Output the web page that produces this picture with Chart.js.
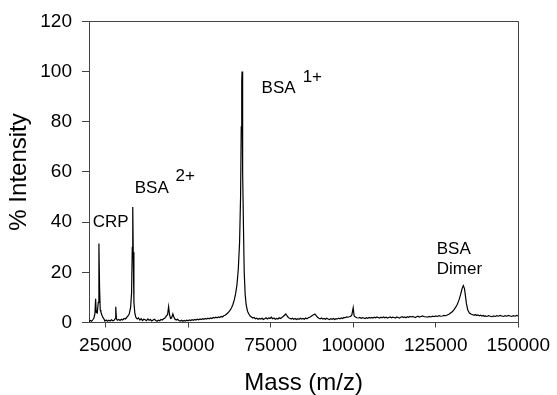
<!DOCTYPE html>
<html>
<head>
<meta charset="utf-8">
<title>Mass spectrum</title>
<script src="https://cdn.jsdelivr.net/npm/chart.js@4"></script>
<style>
  body { margin: 0; background: #fff; }
</style>
</head>
<body>
<canvas id="spectrum" width="557" height="395"></canvas>
<script>
// spectrum, in groups of ten points
const mass = [
    20000, 20400, 20800, 21200, 21500, 21800, 22000, 22200, 22500, 22800,
    23000, 23200, 23400, 23600, 23900, 24200, 24500, 24800, 25200, 25600,
    26000, 26400, 26800, 27200, 27600, 27900, 28100, 28300, 28600, 29000,
    29400, 29800, 30200, 30600, 31000, 31400, 31800, 32200, 32600, 32900,
    33100, 33250, 33400, 33600, 33900, 34200, 34600, 35000, 35400, 35800,
    36200, 36600, 37000, 37400, 37800, 38200, 38600, 39000, 39400, 39800,
    40200, 40600, 41000, 41400, 41800, 42200, 42600, 43000, 43400, 43800,
    44100, 44400, 44700, 45000, 45400, 45700, 46000, 46400, 46800, 47200,
    47600, 48000, 48400, 48800, 49200, 49600, 50000, 50400, 50800, 51200,
    51600, 52000, 52400, 52800, 53200, 53600, 54000, 54400, 54800, 55200,
    55600, 56000, 56400, 56800, 57200, 57600, 58000, 58400, 58800, 59200,
    59600, 60000, 60400, 60800, 61200, 61600, 62000, 62400, 62800, 63200,
    63600, 64000, 64400, 64800, 65200, 65600, 65900, 66100, 66250, 66350,
    66450, 66600, 66800, 67000, 67300, 67600, 68000, 68400, 68800, 69200,
    69600, 70000, 70400, 70800, 71200, 71600, 72000, 72400, 72800, 73200,
    73600, 74000, 74400, 74800, 75200, 75600, 76000, 76400, 76800, 77200,
    77600, 78000, 78400, 78800, 79200, 79600, 80000, 80400, 80800, 81200,
    81600, 82000, 82400, 82800, 83200, 83600, 84000, 84400, 84800, 85200,
    85600, 86000, 86400, 86800, 87200, 87600, 88000, 88400, 88800, 89200,
    89600, 90000, 90400, 90800, 91200, 91600, 92000, 92400, 92800, 93200,
    93600, 94000, 94400, 94800, 95200, 95600, 96000, 96400, 96800, 97200,
    97600, 98000, 98400, 98800, 99200, 99600, 100000, 100300, 100700, 101100,
    101600, 102000, 102400, 102800, 103200, 103600, 104000, 104400, 104800, 105200,
    105600, 106000, 106400, 106800, 107200, 107600, 108000, 108400, 108800, 109200,
    109600, 110000, 110400, 110800, 111200, 111600, 112000, 112400, 112800, 113200,
    113600, 114000, 114400, 114800, 115200, 115600, 116000, 116400, 116800, 117200,
    117600, 118000, 118400, 118800, 119200, 119600, 120000, 120500, 121000, 121500,
    122000, 122500, 123000, 123500, 124000, 124500, 125000, 125500, 126000, 126500,
    127000, 127500, 128000, 128500, 129000, 129500, 130000, 130500, 131000, 131500,
    132000, 132500, 133000, 133350, 133700, 134000, 134300, 134700, 135200, 135800,
    136200, 136600, 137000, 137400, 137800, 138200, 138600, 139000, 139400, 139700,
    140000, 140500, 141000, 141500, 142000, 142500, 143000, 143500, 144000, 144500,
    145000, 145500, 146000, 146500, 147000, 147500, 148000, 148500, 149000, 149500, 150000
];
const intensity = [
    0.4, 0.8, 0.5, 1.2, 1.8, 3.5, 9.5, 4.0, 3.8, 8.0,
    31.5, 14, 5, 4.2, 3, 2, 1.5, 0.6, 1.0, 0.5,
    0.9, 0.6, 1.1, 0.7, 0.9, 1.5, 6.3, 1.5, 0.9, 1.2,
    0.8, 1.3, 1.0, 1.6, 1.4, 2.0, 2.6, 3.5, 6.0, 12,
    30, 46, 28, 8, 3.5, 2.0, 1.4, 1.8, 1.0, 1.5,
    0.8, 1.3, 1.1, 0.7, 1.4, 0.9, 1.2, 0.6, 1.0, 1.3,
    0.8, 0.5, 0.9, 0.7, 1.2, 1.0, 1.5, 1.8, 2.5, 3.2,
    6.3, 3.0, 1.6, 1.8, 3.4, 2.2, 1.4, 1.0, 1.3, 0.8,
    0.6, 0.9, 0.5, 0.8, 0.6, 0.9, 0.7, 1.0, 0.8, 1.1,
    0.9, 1.2, 1.0, 1.3, 1.1, 1.4, 1.2, 1.5, 1.3, 1.6,
    1.4, 1.7, 1.5, 1.8, 1.6, 2.0, 1.8, 2.1, 1.9, 2.2,
    2.0, 2.4, 2.2, 2.7, 2.9, 3.3, 3.8, 4.3, 5.0, 6.0,
    7.3, 9.0, 11.5, 15, 21, 32, 50, 78, 96, 100,
    88, 60, 36, 20, 11, 7, 4.5, 3.4, 2.6, 2.2,
    1.8, 2.0, 1.5, 1.7, 1.3, 1.6, 1.4, 1.7, 1.2, 1.5,
    1.9, 1.4, 1.8, 1.6, 2.1, 1.5, 1.8, 1.3, 1.6, 1.4,
    1.9, 1.6, 2.0, 2.4, 2.9, 3.4, 2.6, 1.9, 1.7, 1.4,
    1.7, 1.3, 1.6, 1.2, 1.5, 1.3, 1.7, 1.4, 1.6, 1.3,
    1.8, 1.5, 1.9, 2.1, 2.4, 2.8, 3.1, 3.4, 2.7, 2.1,
    1.7, 1.5, 1.8, 1.4, 1.6, 1.3, 1.7, 1.4, 1.2, 1.5,
    1.3, 1.6, 1.2, 1.5, 1.4, 1.7, 1.5, 1.8, 1.6, 2.0,
    1.9, 2.2, 2.1, 2.3, 2.4, 3.0, 5.9, 2.6, 2.2, 1.9,
    1.8, 2.0, 1.7, 1.9, 1.8, 1.6, 1.9, 1.7, 2.0, 1.8,
    2.0, 1.8, 2.1, 1.9, 2.2, 2.0, 1.8, 2.1, 1.9, 2.2,
    1.9, 2.1, 1.8, 2.0, 2.2, 1.9, 2.1, 2.0, 1.8, 2.2,
    2.0, 1.8, 2.1, 2.3, 2.0, 2.2, 1.9, 2.3, 2.1, 2.4,
    2.2, 2.4, 2.2, 2.0, 2.3, 2.5, 2.2, 2.4, 2.6, 2.3,
    2.3, 2.1, 2.4, 2.2, 2.5, 2.3, 2.6, 2.4, 2.7, 2.5,
    2.6, 2.8, 2.7, 3.0, 3.3, 3.8, 4.3, 5.0, 6.0, 7.2,
    8.8, 11, 13.6, 14.7, 13.5, 10.5, 7.5, 5.0, 3.8, 3.3,
    3.1, 2.9, 3.2, 2.8, 3.0, 2.7, 2.9, 2.6, 2.8, 2.5,
    2.6, 2.4, 2.7, 2.5, 2.3, 2.6, 2.4, 2.7, 2.5, 2.8,
    2.6, 2.4, 2.7, 2.5, 2.8, 2.6, 2.4, 2.7, 2.5, 2.8, 2.6
];

const xTicks = [25000, 50000, 75000, 100000, 125000, 150000];
const yTicks = [0, 20, 40, 60, 80, 100, 120];

// peak labels, placed in data units (mass, intensity)
const peakLabels = ['CRP', 'BSA', '2+', 'BSA', '1+', 'BSA', 'Dimer'];
const labelMass = [21100, 33840, 46200, 72270, 84700, 125300, 125300];
const labelIntensity = [38, 51.6, 56.5, 91.6, 96, 27.3, 19.2];

const FONT = "'Liberation Sans', Arial, sans-serif";

const peakText = {
    id: 'peakText',
    afterDatasetsDraw(chart) {
        const c = chart.ctx;
        const xs = chart.scales.x;
        const ys = chart.scales.y;
        c.save();
        c.fillStyle = '#000';
        c.font = '17px ' + FONT;
        c.textAlign = 'left';
        c.textBaseline = 'alphabetic';
        for (let i = 0; i < peakLabels.length; i++) {
            c.fillText(peakLabels[i], xs.getPixelForValue(labelMass[i]), ys.getPixelForValue(labelIntensity[i]));
        }
        c.restore();
    }
};

// top and right edges of the plot box
const frame = {
    id: 'frame',
    afterDraw(chart) {
        const a = chart.chartArea;
        const c = chart.ctx;
        c.save();
        c.strokeStyle = '#444';
        c.lineWidth = 1;
        c.beginPath();
        c.moveTo(Math.round(a.left) + 0.5, Math.round(a.top) + 0.5);
        c.lineTo(Math.round(a.right) + 0.5, Math.round(a.top) + 0.5);
        c.lineTo(Math.round(a.right) + 0.5, Math.round(a.bottom) + 0.5);
        c.stroke();
        c.restore();
    }
};

const ctx = document.getElementById('spectrum').getContext('2d');
const spectrum_chart = new Chart(ctx, {
    type: 'line',
    data: {
        datasets: [{
            label: '% Intensity',
            data: mass.map((m, i) => ({ x: m, y: intensity[i] })),
            borderColor: '#000',
            borderWidth: 1.2,
            pointRadius: 0,
            tension: 0,
            fill: false
        }]
    },
    options: {
        responsive: false,
        animation: false,
        devicePixelRatio: 1,
        layout: { padding: { top: 18, right: 36, left: 0, bottom: 0 } },
        plugins: {
            legend: { display: false },
            tooltip: { enabled: false }
        },
        scales: {
            x: {
                type: 'linear',
                min: 20000,
                max: 150000,
                afterBuildTicks: (scale) => { scale.ticks = xTicks.map(v => ({ value: v })); },
                afterFit: (scale) => { scale.height = 72.5; },
                ticks: {
                    color: '#000',
                    font: { family: FONT, size: 19 },
                    padding: 7,
                    maxRotation: 0,
                    callback: (v) => String(v)
                },
                grid: {
                    drawOnChartArea: false,
                    drawTicks: true,
                    tickLength: 5,
                    color: '#444'
                },
                border: { display: true, color: '#444', width: 1 },
                title: {
                    display: true,
                    text: 'Mass (m/z)',
                    color: '#000',
                    font: { family: FONT, size: 24, lineHeight: 1 },
                    padding: { top: 0, bottom: 0 }
                }
            },
            y: {
                min: 0,
                max: 120,
                afterBuildTicks: (scale) => { scale.ticks = yTicks.map(v => ({ value: v })); },
                afterFit: (scale) => { scale.width = 89; },
                ticks: {
                    color: '#000',
                    font: { family: FONT, size: 19 },
                    padding: 10
                },
                grid: {
                    drawOnChartArea: false,
                    drawTicks: true,
                    tickLength: 7,
                    color: '#444'
                },
                border: { display: true, color: '#444', width: 1 },
                title: {
                    display: true,
                    text: '% Intensity',
                    color: '#000',
                    font: { family: FONT, size: 24, lineHeight: 1 },
                    padding: { top: 7, bottom: 0 }
                }
            }
        }
    },
    plugins: [peakText, frame]
});
</script>
</body>
</html>
